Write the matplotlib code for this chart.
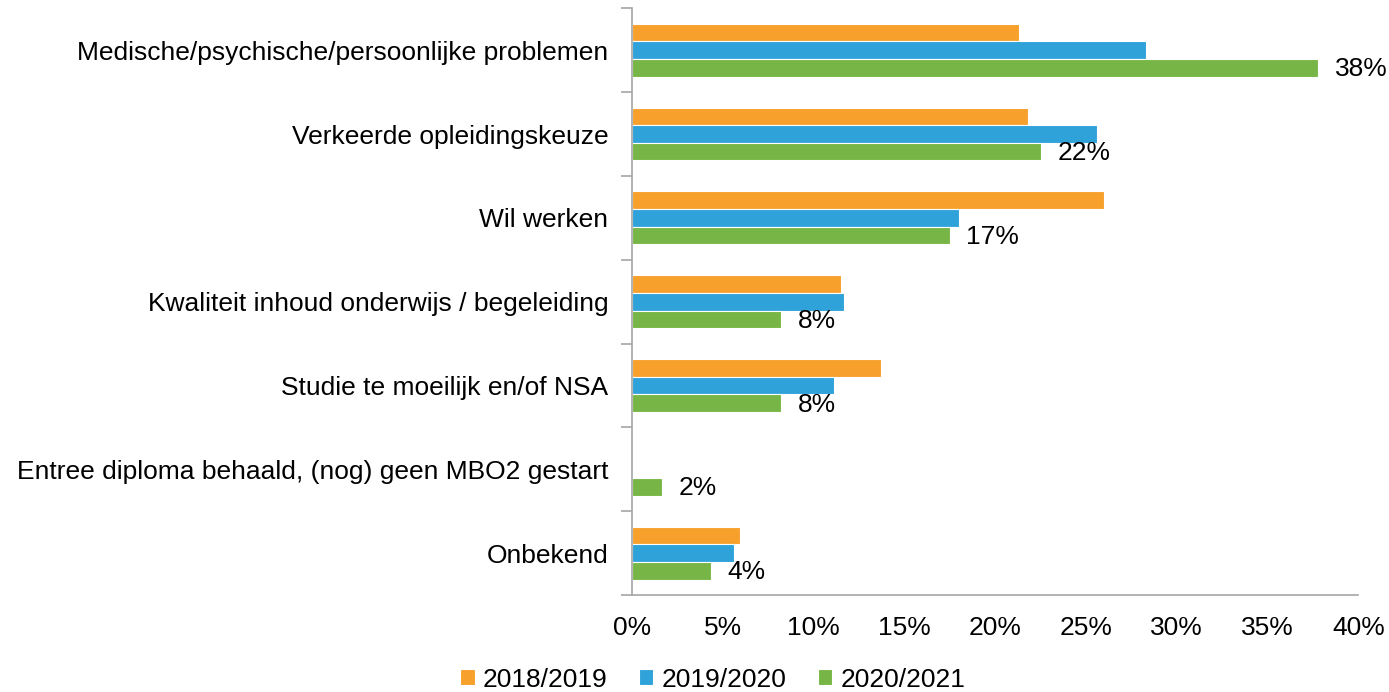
import numpy as np
import matplotlib.pyplot as plt

plt.rcParams['font.family'] = ['Liberation Sans', 'DejaVu Sans']

# Data (percentages)
categories = ["Medische/psychische/persoonlijke problemen",
              "Verkeerde opleidingskeuze",
              "Wil werken",
              "Kwaliteit inhoud onderwijs / begeleiding",
              "Studie te moeilijk en/of NSA",
              "Entree diploma behaald, (nog) geen MBO2 gestart",
              "Onbekend"]
y2018 = [21.3, 21.8, 26.0, 11.5, 13.7, 0.0, 5.95]
y2019 = [28.3, 25.6, 18.0, 11.7, 11.1, 0.0, 5.6]
y2020 = [37.8, 22.5, 17.5, 8.2, 8.2, 1.65, 4.35]
labels2020 = ["38%", "22%", "17%", "8%", "8%", "2%", "4%"]
series_names = ["2018/2019", "2019/2020", "2020/2021"]

colors = ["#F7A02B", "#2FA2D9", "#77B646"]
fs = 19

fig = plt.figure(figsize=(13.89, 6.92), dpi=100)
ax = fig.add_axes([0.455, 0.14, 0.523, 0.848])

y = np.arange(len(categories))
h = 0.21
for vals, off, c, name in zip([y2018, y2019, y2020], [-h, 0, h], colors, series_names):
    ax.barh(y + off, vals, height=h, color=c, edgecolor="white", linewidth=0.8, label=name)

for yi, v, lab in zip(y, y2020, labels2020):
    ax.annotate(lab, (v, yi + h), xytext=(12, -1), textcoords="offset points",
                va="center", ha="left", fontsize=fs)

ax.set_ylim(len(categories) - 0.5, -0.5)
ax.set_xlim(0, 40)
ax.set_xticks(np.arange(0, 41, 5))
ax.set_xticklabels([f"{v}%" for v in range(0, 41, 5)])
ax.set_yticks(y)
ax.set_yticklabels(categories)
ax.set_yticks(np.arange(-0.5, len(categories), 1), minor=True)

ax.tick_params(axis="y", which="major", length=0, pad=17, labelsize=fs)
ax.tick_params(axis="y", which="minor", length=8, color="#A6A6A6", width=1.2)
ax.tick_params(axis="x", length=0, pad=15, labelsize=fs)

for s in ["top", "right"]:
    ax.spines[s].set_visible(False)
for s in ["left", "bottom"]:
    ax.spines[s].set_color("#A6A6A6")
    ax.spines[s].set_linewidth(1.2)

fig.legend(loc="lower center", bbox_to_anchor=(0.513, -0.034), ncol=3, frameon=False,
           fontsize=fs, handlelength=0.55, handleheight=0.55, handletextpad=0.3,
           columnspacing=1.2)

fig.savefig("out.png", dpi=100)
